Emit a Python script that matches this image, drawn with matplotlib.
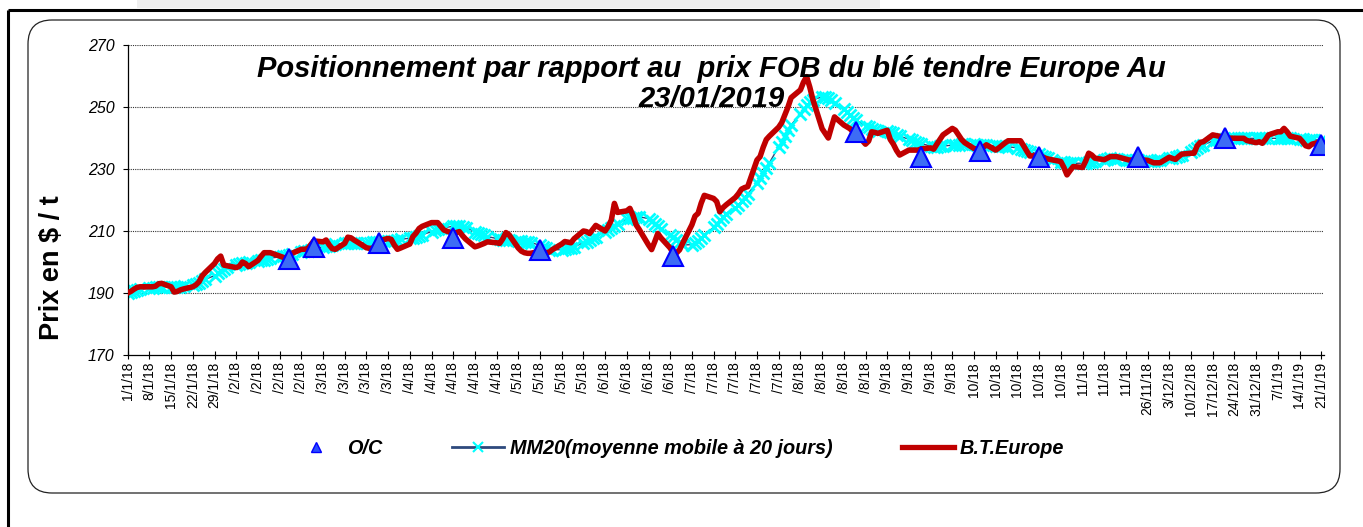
"""Wheat FOB Europe price vs 20-day moving average, Jan 2018 - Jan 2019."""

import matplotlib
matplotlib.use("Agg")
import matplotlib.pyplot as plt
from matplotlib.lines import Line2D
from matplotlib.patches import FancyBboxPatch, Rectangle
import pandas as pd

plt.rcParams["font.family"] = ["Liberation Sans", "DejaVu Sans"]

START = pd.Timestamp("2018-01-01")
DATES = pd.bdate_range("2018-01-01", "2019-01-22")

# B.T.Europe price, one row per week (Mon..Fri)
RED = [
    190.0, 190.5, 191.2, 191.8, 192.0,
    192.0, 192.0, 192.2, 193.0, 193.1,
    192.0, 190.3, 190.5, 191.0, 191.3,
    192.0, 192.6, 193.6, 195.5, 196.6,
    199.5, 201.0, 201.9, 199.0, 198.8,
    198.2, 198.6, 200.0, 199.5, 198.5,
    200.5, 201.8, 203.0, 203.0, 203.0,
    201.9, 201.5, 201.2, 202.0, 202.8,
    204.1, 204.1, 204.3, 205.5, 206.8,
    206.5, 207.1, 205.5, 204.3, 204.1,
    206.0, 208.0, 207.8, 207.1, 206.5,
    204.6, 204.4, 204.4, 205.5, 206.8,
    207.6, 207.3, 205.5, 204.1, 204.5,
    205.8, 208.2, 209.3, 210.8, 211.5,
    212.7, 212.7, 212.7, 211.5, 210.3,
    209.2, 209.5, 209.8, 208.5, 207.4,
    204.9, 205.2, 205.6, 206.0, 206.5,
    206.2, 206.0, 207.5, 209.5, 208.8,
    204.5, 203.5, 203.0, 202.8, 202.8,
    203.5, 203.4, 203.0, 203.2, 204.0,
    205.8, 206.6, 206.4, 206.2, 207.5,
    210.0, 209.8, 209.2, 210.5, 211.8,
    210.0, 211.5, 213.5, 218.9, 216.0,
    216.5, 217.3, 215.0, 212.0, 210.5,
    205.5, 204.0, 206.5, 209.2, 207.8,
    204.5, 202.8, 202.9, 203.9, 206.0,
    212.0, 214.8, 215.7, 219.0, 221.5,
    220.5, 219.5, 216.2, 217.5, 218.4,
    220.8, 222.0, 223.5, 224.0, 224.3,
    232.9, 234.0, 237.0, 239.5, 240.6,
    243.5, 245.0, 247.5, 250.0, 253.0,
    255.5, 258.0, 259.8, 256.5, 252.5,
    243.0, 241.5, 240.0, 243.5, 246.8,
    244.2, 243.6, 243.0, 242.0, 241.5,
    238.0, 239.0, 242.0, 241.8, 241.5,
    242.5, 239.5, 238.0, 236.0, 234.5,
    236.1, 236.1, 236.1, 236.1, 236.5,
    236.8, 236.4, 238.0, 239.5, 241.0,
    243.1, 242.5, 241.0, 239.5, 238.5,
    236.6, 236.4, 236.5, 237.0, 237.8,
    236.1, 236.8, 237.6, 238.4, 239.1,
    239.1, 239.1, 237.5, 235.8, 234.2,
    234.3, 234.0, 233.5, 233.2, 233.0,
    232.4, 230.5, 228.1, 229.5, 230.8,
    230.5, 232.5, 235.1, 234.5, 233.5,
    233.0, 233.5, 234.0, 234.0, 234.0,
    233.2, 232.9, 232.9, 233.0, 233.0,
    232.8, 232.4, 232.0, 232.0, 232.0,
    233.8, 233.4, 233.1, 234.0, 234.8,
    235.1, 235.1, 237.5, 238.6, 238.8,
    241.0, 240.8, 240.6, 240.3, 240.0,
    239.9, 239.9, 239.9, 239.9, 239.2,
    238.5, 238.8, 238.3, 239.5, 241.0,
    242.0, 242.0, 243.1, 242.0, 240.6,
    239.9, 238.8, 237.5, 237.2, 238.0,
    238.8, 238.0,
]

# MM20 (moyenne mobile a 20 jours)
MM20 = [
    190.1, 190.3, 190.6, 190.9, 191.2,
    191.5, 191.6, 191.8, 191.9, 192.0,
    192.0, 192.0, 192.0, 192.0, 192.1,
    192.5, 192.8, 193.2, 193.8, 194.4,
    195.6, 196.3, 197.0, 197.7, 198.3,
    199.0, 199.3, 199.6, 199.8, 199.9,
    200.2, 200.5, 200.8, 201.1, 201.3,
    201.6, 201.8, 202.0, 202.3, 202.6,
    203.2, 203.4, 203.7, 204.0, 204.3,
    204.9, 205.1, 205.3, 205.5, 205.7,
    206.0, 206.1, 206.1, 206.2, 206.2,
    206.2, 206.2, 206.3, 206.4, 206.5,
    206.7, 206.8, 206.9, 207.1, 207.3,
    207.7, 207.9, 208.2, 208.5, 208.8,
    209.8, 210.2, 210.6, 210.9, 211.1,
    211.5, 211.6, 211.6, 211.4, 211.1,
    209.8, 209.4, 209.0, 208.6, 208.2,
    207.6, 207.4, 207.2, 207.1, 207.0,
    206.8, 206.7, 206.6, 206.4, 206.2,
    205.5, 205.0, 204.5, 204.0, 203.9,
    204.0, 204.2, 204.4, 204.6, 204.9,
    206.2, 206.6, 207.1, 207.6, 208.2,
    209.8, 210.3, 211.0, 211.7, 212.4,
    213.8, 214.1, 214.3, 214.5, 214.6,
    214.0, 213.3, 212.4, 211.6, 210.8,
    208.7, 208.0, 207.2, 206.3, 205.5,
    205.6, 206.0, 206.8, 207.8, 208.8,
    211.2, 212.3, 213.5, 214.6, 215.6,
    217.5, 218.5, 219.6, 220.8, 222.0,
    225.5, 227.0, 228.6, 230.3, 232.0,
    237.2, 238.8, 240.6, 242.6, 244.2,
    247.8, 249.2, 250.5, 251.6, 252.3,
    253.3, 253.2, 252.8, 252.3, 251.4,
    249.2, 248.3, 247.4, 246.5, 245.7,
    244.0, 243.4, 242.9, 242.6, 242.4,
    242.1, 242.0, 241.5, 241.1, 240.6,
    239.6, 239.2, 238.8, 238.5, 238.2,
    237.4, 237.2, 237.2, 237.3, 237.4,
    237.7, 237.8, 237.9, 238.0, 238.0,
    238.0, 237.9, 237.8, 237.7, 237.6,
    237.5, 237.4, 237.4, 237.3, 237.2,
    236.8, 236.5, 236.2, 235.9, 235.6,
    234.7, 234.3, 233.8, 233.4, 232.9,
    232.3, 232.1, 231.9, 231.8, 231.8,
    231.9, 232.0, 232.1, 232.3, 232.5,
    233.0, 233.2, 233.4, 233.3, 233.2,
    233.0, 232.9, 232.9, 232.8, 232.8,
    232.7, 232.7, 232.7, 232.8, 232.9,
    233.4, 233.6, 233.9, 234.2, 234.5,
    235.6, 236.2, 236.8, 237.3, 237.8,
    239.0, 239.3, 239.5, 239.7, 239.8,
    239.9, 239.9, 239.9, 239.9, 239.9,
    239.9, 239.9, 239.9, 239.9, 239.9,
    239.9, 239.9, 239.9, 239.9, 239.9,
    239.7, 239.6, 239.5, 239.4, 239.4,
    239.4, 239.4,
]

OC_DATES = ["2018-02-22", "2018-03-02", "2018-03-23", "2018-04-16", "2018-05-14",
            "2018-06-26", "2018-08-24", "2018-09-14", "2018-10-03", "2018-10-22",
            "2018-11-23", "2018-12-21", "2019-01-21"]
OC_VALUES = [200.9, 204.9, 206.0, 207.9, 203.8, 201.8, 241.9, 234.0,
             235.9, 233.9, 233.9, 239.9, 237.8]

TITLE = "Positionnement par rapport au  prix FOB du blé tendre Europe Au\n23/01/2019"
Y_TICKS = [170, 190, 210, 230, 250, 270]

W, H = 1363, 527
RED_C = "#c00000"
CYAN = "#00ffff"
NAVY = "#2e4a7d"
TRI_FC = "#3d6cf5"
TRI_EC = "#0000ff"


def days(d):
    return (pd.DatetimeIndex(d) - START).days


def main() -> None:
    fig = plt.figure(figsize=(W / 100, H / 100), dpi=100)

    # page decorations in pixel coordinates
    bg = fig.add_axes([0, 0, 1, 1])
    bg.set_xlim(0, W)
    bg.set_ylim(H, 0)
    bg.axis("off")
    bg.add_patch(Rectangle((137, 0), 743, 8, fc="#efefef", ec="none"))
    bg.plot([8, 8], [10, H], color="black", lw=2.2, solid_capstyle="butt")
    bg.plot([8, W], [10, 10], color="black", lw=2.2, solid_capstyle="butt")
    bg.add_patch(FancyBboxPatch((28, 20), 1312, 473,
                                boxstyle="round,pad=0,rounding_size=24",
                                fc="white", ec="#222222", lw=0.9))

    ax = fig.add_axes([127.7 / W, 1 - 355 / H, (1324.3 - 127.7) / W, 310 / H])
    ax.set_facecolor("none")

    x = days(DATES)
    ax.plot(x, MM20, color=NAVY, lw=1.0, marker="x", ms=8.5, mew=2.0,
            mec=CYAN, mfc=CYAN, zorder=2)
    ax.plot(x, RED, color=RED_C, lw=4.0, solid_joinstyle="round", zorder=3)
    ax.plot(days(OC_DATES), OC_VALUES, ls="none", marker="^", ms=15,
            mfc=TRI_FC, mec=TRI_EC, mew=1.5, zorder=4)

    ax.set_xlim(0, 386)
    ax.set_ylim(170, 270)
    ax.set_yticks(Y_TICKS)
    ax.set_yticklabels([str(v) for v in Y_TICKS], style="italic", fontsize=11.5)
    ax.tick_params(axis="y", direction="out", length=3.6, width=0.8, pad=6)

    ticks = pd.date_range("2018-01-01", "2019-01-21", freq="7D")
    labels = []
    for i, t in enumerate(ticks):
        full = f"{t.day}/{t.month}/{t:%y}"
        labels.append(full if i < 5 or i > 46 else full[-5:])
    ax.set_xticks(days(ticks))
    ax.set_xticklabels(labels, rotation=90, fontsize=10, va="top", ha="center")
    ax.tick_params(axis="x", direction="inout", length=6, width=0.8, pad=2)

    for v in Y_TICKS[1:]:
        ax.axhline(v, color="#333333", lw=0.8, ls=(0, (1, 1)), zorder=1)
    for side in ("top", "right"):
        ax.spines[side].set_visible(False)
    for side in ("left", "bottom"):
        ax.spines[side].set_linewidth(0.9)

    fig.text(52 / W, 1 - 268 / H, "Prix en $ / t", rotation=90, ha="center",
             va="center", fontsize=19.5, fontweight="bold")
    fig.text(711.5 / W, 1 - 84 / H, TITLE, ha="center", va="center",
             fontsize=21, fontweight="bold", style="italic", linespacing=1.05)

    handles = [
        Line2D([], [], ls="none", marker="^", ms=7, mfc="#2a4cff", mec=TRI_EC),
        Line2D([], [], color=NAVY, lw=2, marker="x", ms=7, mew=1.5, mec=CYAN),
        Line2D([], [], color=RED_C, lw=3.8),
    ]
    names = ["O/C", "MM20(moyenne mobile à 20 jours)", "B.T.Europe"]
    fig.legend(handles, names, loc="center", bbox_to_anchor=(677 / W, 1 - 448 / H),
               ncol=3, frameon=False, numpoints=1, handlelength=2.6,
               handletextpad=0.3, columnspacing=3.5,
               prop={"size": 14.3, "weight": "bold", "style": "italic"})

    fig.savefig("out.png", dpi=100)
    plt.close(fig)


if __name__ == "__main__":
    main()
